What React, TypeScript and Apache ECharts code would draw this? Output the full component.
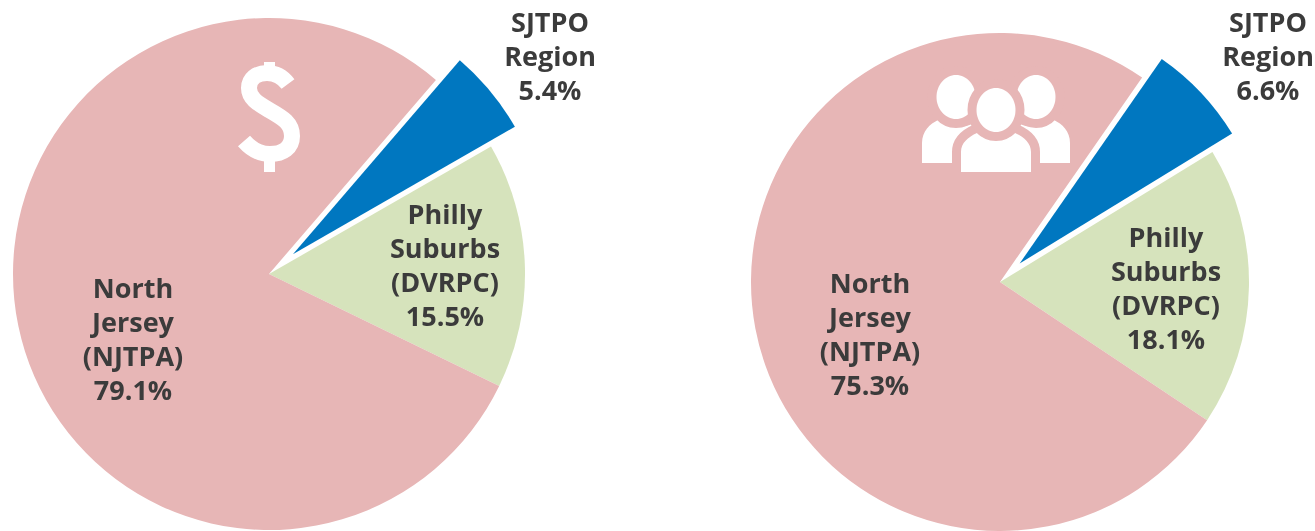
import React, { useEffect, useRef } from "react";
import * as echarts from "echarts";

const regionNames = ["SJTPO\nRegion", "Philly\nSuburbs\n(DVRPC)", "North\nJersey\n(NJTPA)"];
const fundingShare = [5.4, 15.5, 79.1];
const populationShare = [6.6, 18.1, 75.3];
const sliceColors = ["#0077C0", "#D6E3BC", "#E7B6B6"];
const fundingLabelAt = [[550, 55], [445, 264], [133, 338]];
const populationLabelAt = [[1268, 55], [1166, 287], [870, 333]];

const PINK = "#E7B6B6";
const FONT = { fontFamily: "Open Sans", fontWeight: 700, fontSize: 27, lineHeight: 34 };
echarts.graphic.registerShape("sideBodyL", echarts.graphic.extendPath("M922 163V143C922 131 930 124 938 120C945 126 960 129 972 124L972 163Z", {}));
echarts.graphic.registerShape("sideBodyR", echarts.graphic.extendPath("M1070 163V143C1070 131 1062 124 1054 120C1047 126 1032 129 1020 124L1020 163Z", {}));
echarts.graphic.registerShape("midBody", echarts.graphic.extendPath("M961 172V152C961 143 968 137 977 133C985 141 1007 141 1015 133C1024 137 1031 143 1031 152V172Z", {}));
echarts.graphic.registerShape("dollarS", echarts.graphic.extendPath("M288 84C282 76 274 73 267 73C256 73 249 79 249 88C249 98 257 103 269 110C283 118 292 123 292 136C292 148 283 154 270 154C260 154 251 149 244 141", {}));

const labelText = (name: string, value: number) => `${name}\n${value}%`;

function makeSeries(values: number[], center: number[], radius: number, start: number, offset: number, at: number[][]) {
  return {
    type: "pie",
    center,
    radius,
    startAngle: start,
    clockwise: true,
    selectedMode: "single",
    selectedOffset: offset,
    avoidLabelOverlap: false,
    label: {
      show: true,
      position: "inside",
      formatter: (p: any) => labelText(p.name, p.value),
      ...FONT,
      color: "#3B3B3B",
      align: "center",
      verticalAlign: "middle",
    },
    labelLine: { show: false },
    labelLayout: (p: any) => ({ x: at[p.dataIndex][0], y: at[p.dataIndex][1], align: "center", verticalAlign: "middle" }),
    data: values.map((value, i) => ({
      name: regionNames[i],
      value,
      selected: i === 0,
      label: { show: i !== 0 },
      itemStyle: { color: sliceColors[i], borderWidth: 0 },
    })),
  };
}

const calloutText = (values: number[], at: number[][]) => ({
  type: "text",
  z: 10,
  x: at[0][0],
  y: at[0][1],
  style: {
    text: labelText(regionNames[0], values[0]),
    ...FONT,
    fill: "#3B3B3B",
    align: "center",
    verticalAlign: "middle",
  },
});

const head = (cx: number, cy: number) => ({
  type: "ellipse",
  z: 10,
  shape: { cx, cy, rx: 19.5, ry: 22 },
  style: { fill: "#fff", stroke: PINK, lineWidth: 18, strokeFirst: true },
});

export default function App() {
  const ref = useRef<HTMLDivElement>(null);
  useEffect(() => {
    const chart = echarts.init(ref.current!, null, { renderer: "svg" });
    chart.setOption({
      animation: false,
      series: [
        makeSeries(fundingShare, [269, 274], 256, 49.3, 31, fundingLabelAt),
        makeSeries(populationShare, [1000, 282], 249, 55.2, 27, populationLabelAt),
      ],
      graphic: [
        calloutText(fundingShare, fundingLabelAt),
        calloutText(populationShare, populationLabelAt),
        { type: "dollarS", z: 10, silent: true, style: { fill: "none", stroke: "#fff", lineWidth: 16 } },
        { type: "rect", z: 10, shape: { x: 264, y: 62, width: 11, height: 18 }, style: { fill: "#fff" } },
        { type: "rect", z: 10, shape: { x: 264, y: 152, width: 11, height: 20 }, style: { fill: "#fff" } },
        { type: "sideBodyL", z: 10, style: { fill: "#fff" } },
        { type: "sideBodyR", z: 10, style: { fill: "#fff" } },
        head(956, 97),
        head(1036, 97),
        { type: "midBody", z: 10, style: { fill: "#fff", stroke: PINK, lineWidth: 18, strokeFirst: true } },
        head(996, 110),
      ],
    });
    return () => chart.dispose();
  }, []);
  return <div ref={ref} style={{ position: "fixed", left: 0, top: 0, width: 1315, height: 531 }} />;
}
